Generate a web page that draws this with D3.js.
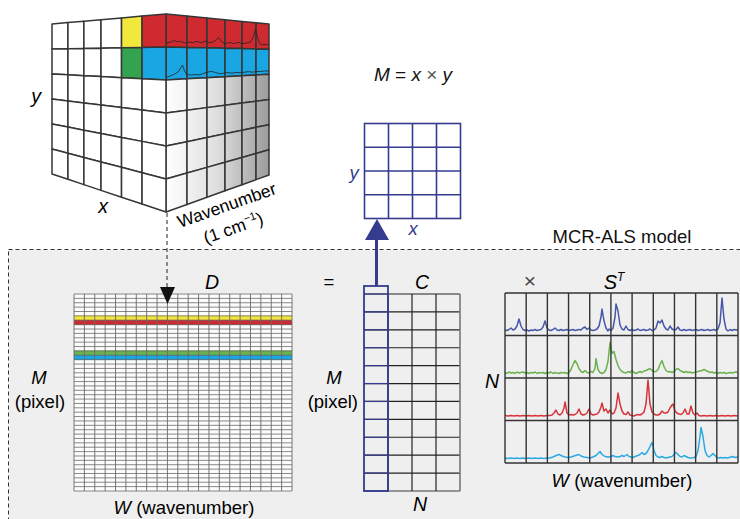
<!DOCTYPE html>
<html>
<head>
<meta charset="utf-8">
<script src="https://cdn.jsdelivr.net/npm/d3@7"></script>
<style>
  body { margin: 0; background: #fff; }
  svg { display: block; font-family: "Liberation Sans", Arial, Helvetica, sans-serif; }
</style>
</head>
<body>
<div class="chart-container"></div>
<script>
// ---------- data ----------
const cubeRows = 6;
const cubeCols = 6;
// coloured pixels on the x-y face of the cube (row, col, colour key)
const cubePixels = [
  { row: 0, col: 4, key: 'yellow' },
  { row: 0, col: 5, key: 'red' },
  { row: 1, col: 4, key: 'green' },
  { row: 1, col: 5, key: 'blue' }
];
// rows of the wavenumber face that carry a spectrum
const cubeSpectraRows = [{ row: 0, key: 'red' }, { row: 1, key: 'blue' }];

const imageSize = 4; // M = x * y small grid (4 x 4)

const dRows = 45, dCols = 21;
const dBands = [
  { row: 5, key: 'yellow' },
  { row: 6, key: 'red' },
  { row: 13, key: 'greenLight' },
  { row: 14, key: 'blue' }
];

const cRows = 11, cCols = 4;
const sCols = 11;
const components = ['specBlue', 'specGreen', 'specRed', 'specCyan'];

// spectra in S^T: [channel, intensity]
const specBlue = [[0,1],[2,0.5],[4,1.5],[6,3],[8,1],[10,2],[12,5],[14,12],[16,5],[18,1.5],[20,0.5],[22,1],[24,0],[26,1],[28,0.5],[30,1.5],[32,0.5],[34,1],[36,1.5],[38,4],[40,10],[42,3],[44,1],[46,0.5],[48,1.5],[50,3],[52,1],[54,0.5],[56,1.5],[58,0.5],[60,1],[62,1.5],[64,0.5],[66,1],[68,1.5],[70,0.5],[72,1],[74,1.5],[76,1],[78,3],[80,4],[82,1.5],[84,3],[86,1],[88,0.5],[90,1],[92,2],[94,5],[96,14],[97,22],[99,10],[101,3],[103,0],[104,2],[106,0.5],[108,3],[110,14],[111,27],[113,20],[115,6],[117,2],[119,1],[121,5],[123,1.5],[125,0.5],[127,1.5],[129,0.5],[131,1],[133,2],[135,0.5],[137,1],[139,1.5],[141,0.5],[143,1],[145,2],[147,0.5],[149,1],[151,3],[153,10],[155,8],[157,11],[159,5],[161,2],[163,1],[165,5],[167,2],[169,1],[171,1.5],[173,4],[175,1],[177,0.5],[179,1.5],[181,0.5],[183,1],[185,1.5],[187,0.5],[189,1],[191,1.5],[193,0.5],[195,1],[197,1.5],[199,0.5],[201,1],[203,1.5],[205,0.5],[207,1],[209,1.5],[211,0.5],[213,2],[215,8],[217,33],[219,12],[221,2],[223,0],[225,1.5],[227,0.5],[229,1.5],[231,1],[233,1.5]];
const specGreen = [[0,1],[2,0],[4,1.5],[6,0.5],[8,1],[10,0],[12,1.5],[14,0.5],[16,1],[18,1.5],[20,0.5],[22,1],[24,0],[26,1],[28,0.5],[30,1.5],[32,0],[34,1],[36,0.5],[38,1],[40,0],[42,1],[44,0.5],[46,1.5],[48,0],[50,1],[52,0.5],[54,0],[56,1],[58,0.5],[60,1],[62,0],[64,1],[66,4],[68,9],[70,13],[72,10],[74,5],[76,2],[78,1],[80,3],[82,1],[84,0.5],[86,2],[88,1],[90,5],[91,15],[93,4],[95,1],[97,0],[99,1],[101,4],[103,12],[105,31],[107,20],[109,22],[111,14],[113,8],[115,4],[117,2],[119,1],[121,0.5],[123,2],[125,1],[127,3],[129,1],[131,0],[133,1],[135,2],[137,1],[139,2.5],[141,3],[143,4],[145,5],[147,3],[149,2],[151,2],[153,4],[155,9],[157,13],[159,7],[161,3],[163,1.5],[165,2],[167,1],[169,2],[171,4],[173,5],[175,3],[177,2],[179,1],[181,2],[183,1],[185,1.5],[187,0.5],[189,1],[191,1.5],[193,2],[195,2.5],[197,3],[199,4],[201,3],[203,2],[205,1],[207,1.5],[209,0.5],[211,1],[213,0],[215,1],[217,0.5],[219,1],[221,0],[223,0.5],[225,1],[227,0.5],[229,1],[231,1.5],[233,1]];
const specRed = [[0,0.5],[3,0],[6,0.5],[9,0],[12,0.5],[15,0],[18,0.5],[21,0],[24,0.5],[27,0],[30,0.5],[33,0],[36,0.5],[39,0],[42,0.5],[45,0.5],[47,1],[49,3],[51,6],[53,2],[55,1],[57,3],[59,8],[60,14],[62,3],[64,1],[66,1.5],[68,1],[70,1.5],[72,3],[74,7],[76,2],[78,1],[80,1.5],[82,3],[84,7],[86,2],[88,1],[90,1.5],[92,2],[94,4],[96,9],[97,13],[99,5],[101,7],[103,3],[105,6],[107,2],[109,3],[111,8],[113,23],[115,12],[117,5],[119,2],[121,1.5],[123,4],[125,1],[127,0.5],[129,0],[131,1],[133,1.5],[135,1],[137,2],[139,4],[141,12],[143,36],[145,12],[147,4],[149,2],[151,1],[153,1],[155,2],[157,5],[159,3],[161,3],[163,4],[165,8],[167,11],[168,12],[170,5],[172,3],[174,2],[176,1.5],[178,3],[180,7],[182,2],[184,2],[186,10],[188,3],[190,1],[192,3],[194,0.5],[196,0],[199,0.5],[202,0],[205,0.5],[208,0],[211,0.5],[214,0],[217,0.5],[220,0],[223,0.5],[226,0],[229,0.5],[233,0]];
const specCyan = [[0,0.5],[3,0],[6,0.5],[9,0],[12,0.5],[15,0],[18,0.5],[21,0],[24,0.5],[27,0],[30,0.5],[33,0],[36,0.5],[39,0],[42,0.5],[45,0.5],[48,1.5],[51,3],[54,4],[57,2.5],[60,1.5],[63,1],[66,1.5],[69,2.5],[72,3.5],[74,4],[76,2.5],[79,1.5],[82,1],[85,0.5],[88,1.5],[91,3],[93,5],[95,7],[97,4],[100,2],[103,1.5],[106,2],[108,3],[110,2],[113,1.5],[115,2],[117,3],[119,2],[122,4],[124,2],[126,1.5],[128,1],[130,2],[133,3],[135,4],[137,6],[139,4],[141,5],[143,8],[145,12],[147,16],[149,8],[151,3],[153,1.5],[155,1],[157,2],[159,1],[161,0.5],[163,1],[165,1.5],[167,2],[169,4],[171,6],[173,4],[175,2],[177,1.5],[179,3],[181,2],[183,1],[185,0.5],[187,0.5],[189,1],[191,2],[193,8],[195,22],[196,31],[198,22],[200,8],[202,3],[204,1.5],[206,3],[208,5],[210,3],[212,1],[214,0.5],[216,1],[218,0.5],[220,1],[222,0.5],[224,1],[226,1.5],[228,2],[230,1],[233,1.5]];

// spectra drawn on the cube face: [position %, fraction of row height]
const cubeSpecRed = [[0,0],[4,0.03],[8,0.1],[11,0.05],[14,0.08],[18,0.02],[22,0.06],[26,0.04],[30,0.1],[34,0.05],[38,0.12],[42,0.06],[46,0.1],[49,0.2],[51,0.27],[53,0.18],[55,0.08],[58,0.05],[62,0.1],[66,0.06],[70,0.12],[74,0.07],[78,0.1],[82,0.15],[85,0.4],[87,0.72],[89,0.35],[91,0.1],[94,0.05],[97,0.08],[100,0.04]];
const cubeSpecBlue = [[0,0],[4,0.05],[8,0.1],[12,0.18],[14,0.3],[16,0.4],[18,0.2],[20,0.08],[24,0.05],[28,0.06],[32,0.04],[36,0.08],[40,0.12],[44,0.15],[48,0.1],[52,0.05],[56,0.06],[60,0.08],[64,0.05],[68,0.07],[72,0.05],[76,0.06],[80,0.08],[84,0.05],[88,0.07],[92,0.06],[96,0.08],[100,0.06]];

const spectra = { specBlue, specGreen, specRed, specCyan };
const cubeSpectra = { red: cubeSpecRed, blue: cubeSpecBlue };

// ---------- styles ----------
const colors = {
  yellow: '#f2e73c', red: '#cf2a2f', green: '#34a350', greenLight: '#6ab24c', blue: '#1aa6e2',
  specBlue: '#4758a8', specGreen: '#6cb24f', specRed: '#d7343b', specCyan: '#2aaae2',
  navy: '#353b8e', grid: '#363636', panel: '#efefef'
};
const fs = 18.5; // body text size

const W = 740, H = 519;
const svg = d3.select('.chart-container').append('svg')
  .attr('width', W).attr('height', H).attr('viewBox', `0 0 ${W} ${H}`);

const defs = svg.append('defs');
const grad = defs.append('linearGradient').attr('id', 'sideGrad')
  .attr('gradientUnits', 'userSpaceOnUse').attr('x1', 166).attr('x2', 269).attr('y1', 0).attr('y2', 0);
grad.append('stop').attr('offset', 0).attr('stop-color', '#ffffff');
grad.append('stop').attr('offset', 0.5).attr('stop-color', '#dedede');
grad.append('stop').attr('offset', 1).attr('stop-color', '#9c9c9c');

/* MCR-ALS panel (dashed box) */
svg.append('rect')
  .attr('x', 8.5).attr('y', 249.5).attr('width', 760).attr('height', 300)
  .attr('fill', colors.panel)
  .attr('stroke', '#333').attr('stroke-width', 1).attr('stroke-dasharray', '4 3');
svg.append('text').attr('x', 622).attr('y', 243).attr('text-anchor', 'middle')
  .attr('font-size', fs).attr('fill', '#111').text('MCR-ALS model');

/* ---------- hyperspectral cube ---------- */
const leftFace = { x0: 52, x1: 166, t0: 24, t1: 14, b0: 174, b1: 212, cols: [0, .14, .28, .43, .61, .79, 1] };
const rightFace = { x0: 166, x1: 269, t0: 14, t1: 24, b0: 212, b1: 175, cols: [0, .204, .398, .573, .738, .874, 1] };

function facePoint(f, u, v) { // u: 0..1 along x, v: 0..1 along height
  const x = f.x0 + u * (f.x1 - f.x0);
  const top = f.t0 + u * (f.t1 - f.t0);
  const bot = f.b0 + u * (f.b1 - f.b0);
  return [x, top + v * (bot - top)];
}
function cellPoly(f, col, row) {
  const vs = d3.scaleLinear().domain([0, cubeRows]).range([0, 1]);
  const u0 = f.cols[col], u1 = f.cols[col + 1];
  return [facePoint(f, u0, vs(row)), facePoint(f, u1, vs(row)), facePoint(f, u1, vs(row + 1)), facePoint(f, u0, vs(row + 1))];
}

const cubeG = svg.append('g').attr('class', 'cube');
const cells = [];
d3.range(cubeRows).forEach(r => d3.range(cubeCols).forEach(c => {
  const px = cubePixels.find(p => p.row === r && p.col === c);
  cells.push({ face: leftFace, row: r, col: c, fill: px ? colors[px.key] : '#fff' });
  const sr = cubeSpectraRows.find(p => p.row === r);
  cells.push({ face: rightFace, row: r, col: c, fill: sr ? colors[sr.key] : 'url(#sideGrad)' });
}));
cubeG.selectAll('polygon.cell').data(cells).enter().append('polygon')
  .attr('class', 'cell')
  .attr('points', d => cellPoly(d.face, d.col, d.row).join(' '))
  .attr('fill', d => d.fill)
  .attr('stroke', colors.grid).attr('stroke-width', 1.5).attr('stroke-linejoin', 'round');

// spectra on the wavenumber face
const cubeU = d3.scaleLinear().domain([0, 100]).range([0, 1]);
cubeSpectraRows.forEach(sr => {
  const base = sr.row === 0 ? 0.88 : 0.93;
  const rv = d3.scaleLinear().domain([0, 1]).range([(sr.row + base) / cubeRows, sr.row / cubeRows]);
  cubeG.append('path')
    .datum(cubeSpectra[sr.key])
    .attr('d', d3.line().x(d => facePoint(rightFace, cubeU(d[0]), rv(d[1]))[0])
                        .y(d => facePoint(rightFace, cubeU(d[0]), rv(d[1]))[1]))
    .attr('fill', 'none').attr('stroke', '#222').attr('stroke-width', 0.8);
});

cubeG.append('text').attr('x', 36).attr('y', 103).attr('font-size', fs + 1).attr('font-style', 'italic')
  .attr('text-anchor', 'middle').text('y');
cubeG.append('text').attr('x', 103).attr('y', 213).attr('font-size', fs + 1).attr('font-style', 'italic')
  .attr('text-anchor', 'middle').text('x');
cubeG.append('text').attr('transform', 'translate(180,228) rotate(-19.5)')
  .attr('font-size', 17.5).text('Wavenumber');
const unitT = cubeG.append('text').attr('transform', 'translate(206,244) rotate(-19.5)').attr('font-size', 17.5);
unitT.append('tspan').text('(1 cm');
unitT.append('tspan').attr('font-size', 11).attr('dy', -7).text('\u22121');
unitT.append('tspan').attr('dy', 7).text(')');

/* dashed link from cube to D */
svg.append('line').attr('x1', 167).attr('x2', 167).attr('y1', 213).attr('y2', 288)
  .attr('stroke', '#222').attr('stroke-width', 1).attr('stroke-dasharray', '4 3');

/* ---------- M = x * y image grid ---------- */
const mt = svg.append('text').attr('x', 413).attr('y', 81).attr('text-anchor', 'middle').attr('font-size', fs + 0.5).attr('fill', '#111');
mt.append('tspan').attr('font-style', 'italic').text('M');
mt.append('tspan').text(' = ');
mt.append('tspan').attr('font-style', 'italic').text('x');
mt.append('tspan').attr('fill', '#555').text(' \u00d7 ');
mt.append('tspan').attr('font-style', 'italic').text('y');

const gx = d3.scaleLinear().domain([0, imageSize]).range([364.5, 460.5]);
const gy = d3.scaleLinear().domain([0, imageSize]).range([123.5, 218.5]);
const imgG = svg.append('g').attr('stroke', colors.navy).attr('stroke-width', 1.6);
imgG.append('rect').attr('x', gx(0)).attr('y', gy(0)).attr('width', gx(imageSize) - gx(0))
  .attr('height', gy(imageSize) - gy(0)).attr('fill', '#fff');
imgG.selectAll('line.v').data(d3.range(1, imageSize)).enter().append('line')
  .attr('x1', d => gx(d)).attr('x2', d => gx(d)).attr('y1', gy(0)).attr('y2', gy(imageSize));
imgG.selectAll('line.h').data(d3.range(1, imageSize)).enter().append('line')
  .attr('y1', d => gy(d)).attr('y2', d => gy(d)).attr('x1', gx(0)).attr('x2', gx(imageSize));
svg.append('text').attr('x', 354).attr('y', 179).attr('font-size', fs).attr('font-style', 'italic')
  .attr('fill', colors.navy).attr('text-anchor', 'middle').text('y');
svg.append('text').attr('x', 413).attr('y', 235).attr('font-size', fs).attr('font-style', 'italic')
  .attr('fill', colors.navy).attr('text-anchor', 'middle').text('x');

/* ---------- D matrix ---------- */
const dx = d3.scaleLinear().domain([0, dCols]).range([74, 292]);
const dy = d3.scaleLinear().domain([0, dRows]).range([294, 491]);
const dG = svg.append('g');
dG.append('rect').attr('x', dx(0)).attr('y', dy(0)).attr('width', dx(dCols) - dx(0))
  .attr('height', dy(dRows) - dy(0)).attr('fill', '#fcfcfc');
dG.selectAll('rect.band').data(dBands).enter().append('rect')
  .attr('x', dx(0)).attr('width', dx(dCols) - dx(0))
  .attr('y', d => dy(d.row) - 0.4).attr('height', d => dy(d.row + 1) - dy(d.row) + 0.8)
  .attr('fill', d => colors[d.key]);
dG.selectAll('line.h').data(d3.range(dRows + 1)).enter().append('line')
  .attr('x1', dx(0)).attr('x2', dx(dCols)).attr('y1', d => dy(d)).attr('y2', d => dy(d))
  .attr('stroke', '#6a6a6a').attr('stroke-width', 0.8);
dG.selectAll('line.v').data(d3.range(dCols + 1)).enter().append('line')
  .attr('y1', dy(0)).attr('y2', dy(dRows)).attr('x1', d => dx(d)).attr('x2', d => dx(d))
  .attr('stroke', '#6a6a6a').attr('stroke-width', 0.9);
// arrow head into D
svg.append('path').attr('d', 'M160,287 L175,287 L167.5,304 Z').attr('fill', '#111');

svg.append('text').attr('x', 212).attr('y', 289).attr('font-size', fs + 1).attr('font-style', 'italic')
  .attr('text-anchor', 'middle').text('D');
svg.append('text').attr('x', 39).attr('y', 384).attr('font-size', fs).attr('font-style', 'italic')
  .attr('text-anchor', 'middle').text('M');
svg.append('text').attr('x', 40).attr('y', 408).attr('font-size', fs)
  .attr('text-anchor', 'middle').text('(pixel)');
const wD = svg.append('text').attr('x', 184).attr('y', 514).attr('font-size', fs).attr('text-anchor', 'middle');
wD.append('tspan').attr('font-style', 'italic').text('W');
wD.append('tspan').text(' (wavenumber)');

svg.append('text').attr('x', 329).attr('y', 288).attr('font-size', fs).attr('text-anchor', 'middle').text('=');

/* ---------- C matrix ---------- */
const cx = d3.scaleLinear().domain([0, cCols]).range([364, 460]);
const cy = d3.scaleLinear().domain([0, cRows]).range([294, 491]);
const cG = svg.append('g');
cG.selectAll('line.h').data(d3.range(cRows)).enter().append('line')
  .attr('x1', cx(0)).attr('x2', cx(cCols)).attr('y1', d => cy(d)).attr('y2', d => cy(d))
  .attr('stroke', '#222').attr('stroke-width', 1.2);
cG.append('line').attr('x1', cx(0)).attr('x2', cx(cCols)).attr('y1', cy(cRows)).attr('y2', cy(cRows))
  .attr('stroke', '#777').attr('stroke-width', 1.6);
cG.selectAll('line.v').data(d3.range(1, cCols)).enter().append('line')
  .attr('y1', cy(0)).attr('y2', cy(cRows)).attr('x1', d => cx(d)).attr('x2', d => cx(d))
  .attr('stroke', '#222').attr('stroke-width', 1.2);
cG.append('line').attr('x1', cx(cCols)).attr('x2', cx(cCols)).attr('y1', cy(0)).attr('y2', cy(cRows))
  .attr('stroke', '#777').attr('stroke-width', 1.6);
// first concentration column, highlighted
cG.append('rect').attr('x', cx(0)).attr('y', 286).attr('width', cx(1) - cx(0)).attr('height', cy(cRows) - 286)
  .attr('fill', 'none').attr('stroke', colors.navy).attr('stroke-width', 1.8);
cG.selectAll('line.hb').data(d3.range(cRows)).enter().append('line')
  .attr('x1', cx(0)).attr('x2', cx(1)).attr('y1', d => cy(d)).attr('y2', d => cy(d))
  .attr('stroke', colors.navy).attr('stroke-width', 1.2);

// refolding arrow
svg.append('line').attr('x1', 376.5).attr('x2', 376.5).attr('y1', 286).attr('y2', 238)
  .attr('stroke', colors.navy).attr('stroke-width', 3);
svg.append('path').attr('d', 'M365,240 L389,240 L377,219 Z').attr('fill', colors.navy);

svg.append('text').attr('x', 422).attr('y', 289).attr('font-size', fs + 1).attr('font-style', 'italic')
  .attr('text-anchor', 'middle').text('C');
svg.append('text').attr('x', 334).attr('y', 384).attr('font-size', fs).attr('font-style', 'italic')
  .attr('text-anchor', 'middle').text('M');
svg.append('text').attr('x', 358).attr('y', 408).attr('font-size', fs)
  .attr('text-anchor', 'end').text('(pixel)');
svg.append('text').attr('x', 420).attr('y', 511).attr('font-size', fs + 1).attr('font-style', 'italic')
  .attr('text-anchor', 'middle').text('N');

/* ---------- S^T spectra ---------- */
const sx = d3.scaleLinear().domain([0, 233]).range([505, 738]);
const sRow = d3.scaleBand().domain(components).range([293, 463]);
const sG = svg.append('g');
components.forEach(k => {
  const top = sRow(k), bot = top + sRow.bandwidth();
  const baseline = bot - 4.5;
  const yk = d3.scaleLinear().domain([0, 40]).range([baseline, baseline - 40]);
  sG.append('path').datum(spectra[k])
    .attr('d', d3.line().x(d => sx(d[0])).y(d => yk(d[1])))
    .attr('fill', 'none').attr('stroke', colors[k]).attr('stroke-width', 1.5).attr('stroke-linejoin', 'round');
});
const scx = d3.scaleLinear().domain([0, sCols]).range([505, 738]);
sG.selectAll('line.v').data(d3.range(sCols + 1)).enter().append('line')
  .attr('x1', d => scx(d)).attr('x2', d => scx(d)).attr('y1', 293).attr('y2', 463)
  .attr('stroke', '#333').attr('stroke-width', 1.4);
sG.selectAll('line.h').data(components.map(k => sRow(k)).concat([463])).enter().append('line')
  .attr('x1', 505).attr('x2', 738).attr('y1', d => d).attr('y2', d => d)
  .attr('stroke', '#333').attr('stroke-width', 1.4);

svg.append('text').attr('x', 530).attr('y', 288).attr('font-size', 21).attr('text-anchor', 'middle').attr('fill', '#444').text('\u00d7');
const st = svg.append('text').attr('x', 614).attr('y', 289).attr('font-size', 20).attr('text-anchor', 'middle');
st.append('tspan').attr('font-style', 'italic').text('S');
st.append('tspan').attr('font-style', 'italic').attr('font-size', 12).attr('dy', -8).text('T');
svg.append('text').attr('x', 492).attr('y', 388).attr('font-size', fs + 1).attr('font-style', 'italic')
  .attr('text-anchor', 'middle').text('N');
const wS = svg.append('text').attr('x', 622).attr('y', 487).attr('font-size', fs).attr('text-anchor', 'middle');
wS.append('tspan').attr('font-style', 'italic').text('W');
wS.append('tspan').text(' (wavenumber)');
</script>
</body>
</html>
